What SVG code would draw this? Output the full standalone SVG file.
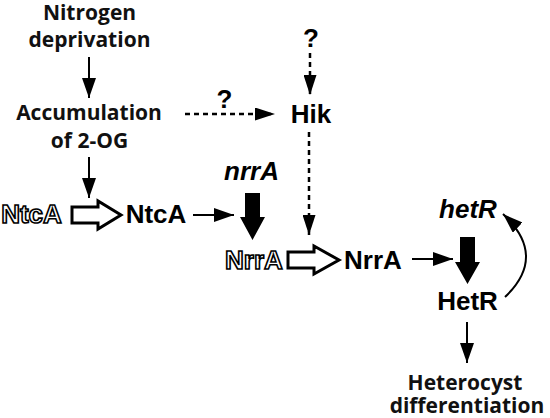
<svg xmlns="http://www.w3.org/2000/svg" width="550" height="418" viewBox="0 0 550 418">
  <style>
    .t { font-family: "Open Sans", "DejaVu Sans", sans-serif; font-weight: bold; font-size: 21px; fill: #111; text-anchor: middle; }
    .a { font-family: "Liberation Sans", Arial, sans-serif; font-weight: bold; font-size: 26px; fill: #000; text-anchor: middle; }
    .i { font-style: italic; }
    .h { fill: #fff; stroke: #000; stroke-width: 1.6; }
    .ln { fill: none; stroke: #000; stroke-width: 2; }
    .ds { fill: none; stroke: #000; stroke-width: 2.5; stroke-dasharray: 5 4; }
    .hol { fill: #fff; stroke: #000; stroke-width: 3; stroke-linejoin: miter; }
    .blk { fill: #000; }
  </style>
  <defs>
    <marker id="ah" markerUnits="userSpaceOnUse" markerWidth="20" markerHeight="14" refX="20" refY="7" orient="auto">
      <path d="M0,0 L20,7 L0,14 Z" fill="#000"/>
    </marker>
    <marker id="ahd" markerUnits="userSpaceOnUse" markerWidth="20" markerHeight="13" refX="20" refY="6.5" orient="auto">
      <path d="M0,0 L20,6.5 L0,13 Z" fill="#000"/>
    </marker>
  </defs>

  <g id="nitrogen-deprivation">
    <text class="t" x="89.5" y="20">Nitrogen</text>
    <text class="t" x="89.5" y="47">deprivation</text>
  </g>
  <g id="accumulation-2og">
    <text class="t" x="89" y="120">Accumulation</text>
    <text class="t" x="89.5" y="148">of 2-OG</text>
  </g>
  <g id="q1"><text class="a" x="224.5" y="108">?</text></g>
  <g id="q2"><text class="a" x="311" y="47">?</text></g>
  <g id="hik"><text class="a" x="311" y="123">Hik</text></g>
  <g id="ntca-inactive"><text class="a h" x="31.5" y="223">NtcA</text></g>
  <g id="ntca-active"><text class="a" x="156" y="223">NtcA</text></g>
  <g id="nrra-gene"><text class="a i" x="251.5" y="180">nrrA</text></g>
  <g id="nrra-inactive"><text class="a h" x="254" y="269">NrrA</text></g>
  <g id="nrra-active"><text class="a" x="373" y="269">NrrA</text></g>
  <g id="hetr-gene"><text class="a i" x="468" y="218">hetR</text></g>
  <g id="hetr-protein"><text class="a" x="467.5" y="310">HetR</text></g>
  <g id="heterocyst">
    <text class="t" x="465" y="390">Heterocyst</text>
    <text class="t" x="467" y="413">differentiation</text>
  </g>

  <g id="connectors">
    <line class="ln" x1="89" y1="57" x2="89" y2="98" marker-end="url(#ah)"/>
    <line class="ln" x1="89" y1="157" x2="89" y2="198" marker-end="url(#ah)"/>
    <line class="ln" x1="193" y1="215" x2="234" y2="215" marker-end="url(#ah)"/>
    <line class="ln" x1="412" y1="259" x2="453" y2="259" marker-end="url(#ah)"/>
    <line class="ln" x1="467" y1="322" x2="467" y2="363" marker-end="url(#ah)"/>
    <path class="ln" d="M505,297 Q548,256 503,214" marker-end="url(#ah)"/>

    <line class="ds" x1="185" y1="114" x2="275" y2="114" marker-end="url(#ahd)"/>
    <line class="ds" x1="310" y1="53" x2="310" y2="95" marker-end="url(#ahd)"/>
    <line class="ds" x1="309" y1="132" x2="309" y2="235" marker-end="url(#ahd)"/>

    <polygon class="hol" points="72,207 98,207 98,201 121,215 98,229 98,223 72,223"/>
    <polygon class="hol" points="288,252 314,252 314,246 339,260 314,274 314,268 288,268"/>

    <polygon class="blk" points="245,193 260,193 260,217 265,217 252.5,240 240,217 245,217"/>
    <polygon class="blk" points="460,237 475,237 475,262 480,262 467.5,284 455,262 460,262"/>
  </g>
</svg>
